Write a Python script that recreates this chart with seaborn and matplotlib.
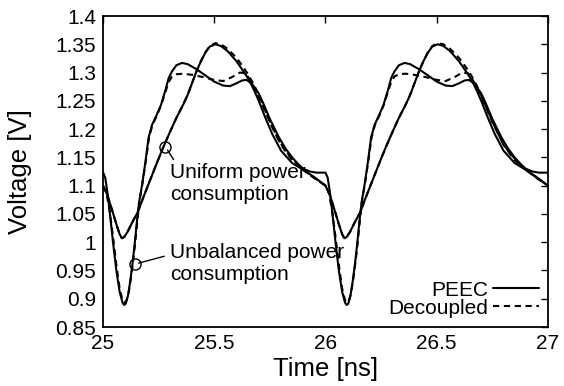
import numpy as np
import pandas as pd
import matplotlib
matplotlib.use("Agg")
import matplotlib.pyplot as plt
from matplotlib.lines import Line2D
import seaborn as sns

# ---------------- data (one period, t = time - period start, in ns) ----------------
periods = [25.0, 26.0]

t_uni_peec = [0.000, 0.020, 0.040, 0.060, 0.075, 0.085, 0.095, 0.110, 0.130, 0.155,
              0.180, 0.210, 0.240, 0.270, 0.300, 0.330, 0.360, 0.380, 0.400, 0.420,
              0.440, 0.460, 0.480, 0.505, 0.530, 0.560, 0.600, 0.630, 0.655, 0.680,
              0.700, 0.730, 0.760, 0.800, 0.850, 0.900, 0.950, 1.000]
v_uni_peec = [1.100, 1.083, 1.058, 1.032, 1.014, 1.007, 1.009, 1.018, 1.034, 1.052,
              1.078, 1.108, 1.138, 1.167, 1.194, 1.220, 1.243, 1.260, 1.281, 1.302,
              1.320, 1.335, 1.346, 1.350, 1.347, 1.338, 1.320, 1.303, 1.288, 1.268,
              1.250, 1.220, 1.192, 1.162, 1.140, 1.128, 1.115, 1.100]

t_uni_dec = [0.000, 0.020, 0.040, 0.060, 0.075, 0.085, 0.095, 0.110, 0.130, 0.155,
             0.180, 0.210, 0.240, 0.270, 0.300, 0.330, 0.360, 0.380, 0.400, 0.420,
             0.440, 0.460, 0.480, 0.505, 0.530, 0.560, 0.600, 0.630, 0.655, 0.680,
             0.700, 0.730, 0.760, 0.800, 0.850, 0.900, 0.950, 1.000]
v_uni_dec = [1.100, 1.083, 1.058, 1.032, 1.014, 1.007, 1.009, 1.018, 1.034, 1.052,
             1.078, 1.108, 1.138, 1.167, 1.194, 1.220, 1.243, 1.260, 1.281, 1.302,
             1.320, 1.336, 1.347, 1.352, 1.350, 1.342, 1.326, 1.310, 1.295, 1.277,
             1.260, 1.232, 1.205, 1.172, 1.145, 1.128, 1.114, 1.100]

t_unb_peec = [0.000, 0.010, 0.020, 0.030, 0.045, 0.060, 0.075, 0.088, 0.095, 0.102,
              0.112, 0.122, 0.132, 0.142, 0.152, 0.162, 0.175, 0.190, 0.205, 0.220,
              0.240, 0.260, 0.280, 0.295, 0.310, 0.330, 0.355, 0.380, 0.420, 0.460,
              0.500, 0.540, 0.570, 0.600, 0.625, 0.645, 0.670, 0.700, 0.720, 0.750,
              0.790, 0.820, 0.850, 0.880, 0.900, 0.930, 0.960, 1.000]
v_unb_peec = [1.124, 1.114, 1.088, 1.055, 1.000, 0.950, 0.912, 0.893, 0.889, 0.891,
              0.905, 0.930, 0.960, 0.995, 1.035, 1.070, 1.100, 1.140, 1.185, 1.207,
              1.224, 1.242, 1.268, 1.290, 1.302, 1.313, 1.317, 1.315, 1.306, 1.295,
              1.284, 1.277, 1.276, 1.281, 1.286, 1.287, 1.280, 1.263, 1.246, 1.218,
              1.186, 1.166, 1.150, 1.137, 1.130, 1.125, 1.123, 1.123]

t_unb_dec = [0.000, 0.015, 0.030, 0.045, 0.060, 0.075, 0.088, 0.097, 0.105, 0.115,
             0.125, 0.135, 0.145, 0.155, 0.165, 0.178, 0.192, 0.207, 0.222, 0.242,
             0.262, 0.280, 0.295, 0.310, 0.330, 0.360, 0.400, 0.450, 0.500, 0.540,
             0.580, 0.615, 0.640, 0.665, 0.690, 0.720, 0.750, 0.790, 0.820, 0.850,
             0.880, 0.900, 0.950, 1.000]
v_unb_dec = [1.100, 1.088, 1.055, 1.010, 0.960, 0.918, 0.897, 0.893, 0.896, 0.910,
             0.935, 0.965, 1.000, 1.040, 1.075, 1.105, 1.142, 1.185, 1.207, 1.224,
             1.243, 1.265, 1.283, 1.293, 1.297, 1.298, 1.296, 1.292, 1.287, 1.285,
             1.292, 1.300, 1.299, 1.285, 1.264, 1.240, 1.212, 1.180, 1.162, 1.148,
             1.136, 1.128, 1.113, 1.100]

x_ticks = [25, 25.5, 26, 26.5, 27]
x_ticklabels = ["25", "25.5", "26", "26.5", "27"]
y_ticks = [0.85, 0.9, 0.95, 1.0, 1.05, 1.1, 1.15, 1.2, 1.25, 1.3, 1.35, 1.4]
y_ticklabels = ["0.85", "0.9", "0.95", "1", "1.05", "1.1", "1.15", "1.2",
                "1.25", "1.3", "1.35", "1.4"]
models = ["PEEC", "Decoupled"]

# ---------------- build long table ----------------
series = [
    ("PEEC", "Uniform", t_uni_peec, v_uni_peec),
    ("Decoupled", "Uniform", t_uni_dec, v_uni_dec),
    ("PEEC", "Unbalanced", t_unb_peec, v_unb_peec),
    ("Decoupled", "Unbalanced", t_unb_dec, v_unb_dec),
]
rows = []
for model, case, ts, vs in series:
    for p in periods:
        for t, v in zip(ts, vs):
            rows.append({"Time": p + t, "Voltage": v, "Model": model,
                         "Case": case})
df = pd.DataFrame(rows).drop_duplicates(subset=["Time", "Model", "Case"])

# ---------------- style ----------------
sns.set_style("white")
plt.rcParams["font.family"] = ["Liberation Sans", "DejaVu Sans"]
for k in ["text.color", "axes.labelcolor", "xtick.color", "ytick.color",
          "axes.edgecolor"]:
    plt.rcParams[k] = "black"

fig = plt.figure(figsize=(5.64, 3.86), dpi=100)
ax = fig.add_axes([0.1826, 0.1528, 0.789, 0.8057])

sns.lineplot(data=df, x="Time", y="Voltage", style="Model", units="Case",
             estimator=None, color="black", linewidth=1.5,
             dashes={"PEEC": "", "Decoupled": (3, 2.2)},
             style_order=models, legend=False, ax=ax)

ax.set_xlim(25, 27)
ax.set_ylim(0.85, 1.4)
ax.set_xticks(x_ticks)
ax.set_xticklabels(x_ticklabels)
ax.set_yticks(y_ticks)
ax.set_yticklabels(y_ticklabels)
ax.tick_params(direction="in", top=True, right=True, length=5, width=1.0,
               labelsize=15, pad=5, colors="black")
for s in ax.spines.values():
    s.set_linewidth(1.3)
    s.set_color("black")

ax.set_xlabel("Time [ns]", fontsize=18.5)
ax.set_ylabel("Voltage [V]", fontsize=18.5)
ax.xaxis.set_label_coords(0.5, -0.095)
ax.yaxis.set_label_coords(-0.16, 0.5)

# annotations
ax.plot([25.279], [1.168], marker="o", ms=8, mfc="none", mec="black", mew=1.0)
ax.annotate("Uniform power\nconsumption", xy=(25.29, 1.163), xytext=(25.302, 1.104),
            ha="left", va="center", fontsize=15,
            arrowprops=dict(arrowstyle="-", color="black", lw=1.0,
                            shrinkA=0, shrinkB=0,
                            relpos=(0.06, 0.9)))
ax.plot([25.144], [0.961], marker="o", ms=8, mfc="none", mec="black", mew=1.0)
ax.annotate("Unbalanced power\nconsumption", xy=(25.16, 0.963), xytext=(25.302, 0.962),
            ha="left", va="center", fontsize=15,
            arrowprops=dict(arrowstyle="-", color="black", lw=1.0,
                            shrinkA=2, shrinkB=0,
                            relpos=(0.0, 0.72)))

handles = [Line2D([], [], color="black", lw=1.5),
           Line2D([], [], color="black", lw=1.5, dashes=(3, 2.2))]
ax.legend(handles, models, loc="lower right", frameon=False, markerfirst=False,
          fontsize=15, handlelength=2.2, handletextpad=0.2, labelspacing=-0.05,
          borderpad=0.2, borderaxespad=0.25)

fig.savefig("out.png", dpi=100)
